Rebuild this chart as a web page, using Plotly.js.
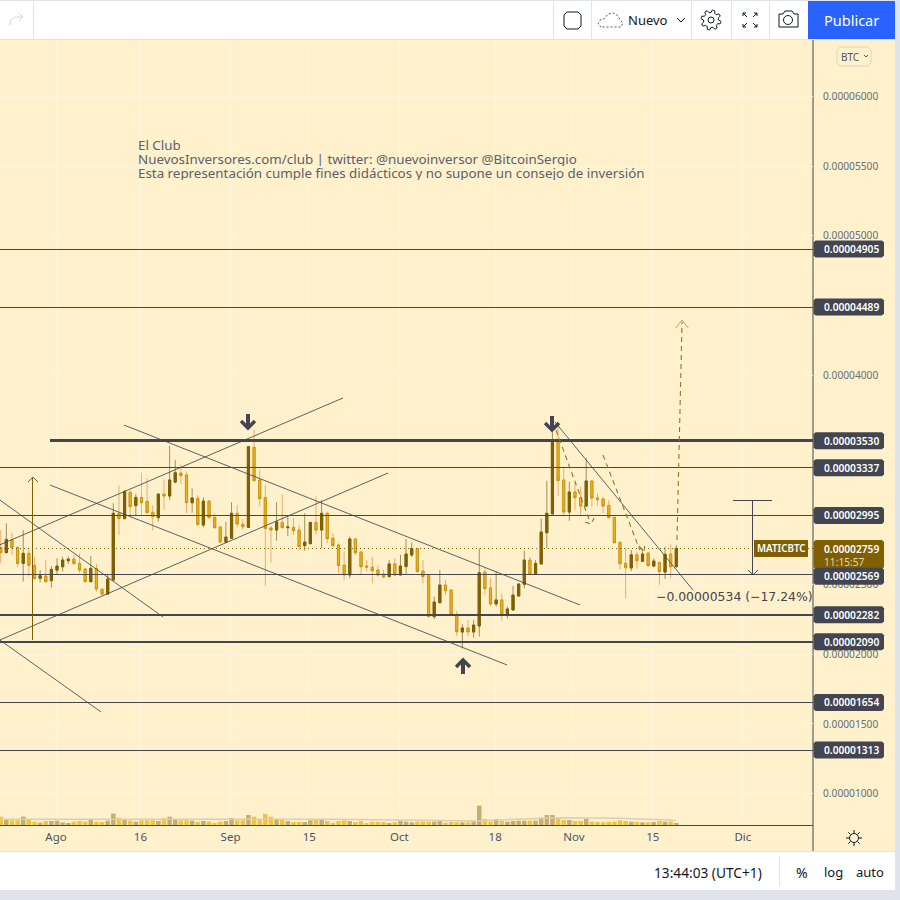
<!DOCTYPE html>
<html>
<head>
<meta charset="utf-8">
<script src="https://cdn.plot.ly/plotly-3.0.1.min.js"></script>
<style>html,body{margin:0;padding:0;background:#fff;overflow:hidden}#chart{width:900px;height:900px}</style>
</head>
<body>
<div id="chart"></div>
<script>
// Prices in units of 0.00000001 BTC; day 0 = 1 Aug
const firstDay = -10;
const open = [2766,2728,2819,2766,2651,2723,2637,2544,2560,2527,
2603,2627,2670,2682,2651,2611,2520,2615,2465,2431,
2532,3010,2972,3160,3065,3124,3096,3017,2979,3148,
3134,3234,3299,3285,3086,3117,2926,3098,2981,2912,
2804,2831,3010,2931,2909,3483,3249,3124,2905,2890,
2945,2907,2909,2890,2778,2792,2945,2890,3010,2831,
2783,2639,2568,2826,2733,2632,2623,2604,2575,2556,
2647,2568,2628,2711,2757,2596,2563,2269,2369,2496,
2460,2281,2159,2188,2159,2202,2589,2475,2360,2389,
2286,2317,2417,2501,2675,2575,2647,2871,3005,3524,
3249,3019,3163,3124,3062,3242,3120,3113,3067,2981,
2802,2651,2618,2713,2666,2725,2632,2658,2589,2718,2627];
const close = [2728,2823,2764,2651,2723,2637,2544,2563,2520,2608,
2632,2675,2682,2649,2603,2520,2615,2467,2431,2539,
3010,2972,3165,3058,3124,3086,3015,2986,3148,3134,
3249,3301,3280,3086,3120,2929,3098,2979,2907,2804,
2840,3010,2933,2914,3488,3244,3115,2902,2890,2948,
2907,2912,2886,2771,2804,2945,2890,3010,2828,2778,
2635,2568,2826,2728,2627,2625,2599,2568,2553,2647,
2568,2632,2718,2757,2592,2556,2269,2374,2496,2455,
2286,2161,2188,2159,2209,2584,2470,2360,2389,2286,
2324,2424,2503,2675,2575,2651,2876,3010,3524,3244,
3019,3163,3122,3062,3242,3120,3108,3062,2979,2799,
2649,2620,2713,2670,2718,2635,2668,2592,2716,2627,2759];
const high = [2890,2938,2871,2771,2890,2759,2699,2603,2675,2632,
2687,2699,2699,2711,2723,2615,2704,2647,2472,2568,
3082,3213,3177,3177,3148,3301,3261,3070,3148,3254,
3493,3392,3361,3309,3189,3141,3124,3105,3010,2919,
2950,3089,3070,2969,3488,3612,3320,3213,2920,3089,
3148,2998,2981,2926,3010,2945,3129,3105,3022,2867,
2795,2735,2843,2831,2735,2675,2699,2639,2604,2675,
2687,2711,2826,2800,2759,2675,2565,2412,2604,2532,
2465,2310,2216,2245,2245,2759,2616,2544,2592,2436,
2341,2489,2508,2742,2699,2675,2974,3244,3595,3631,
3344,3237,3225,3201,3404,3249,3153,3129,3105,2986,
2807,2759,2747,2735,2759,2728,2687,2663,2771,2788,2783];
const low = [2651,2723,2711,2623,2520,2556,2532,2513,2513,2477,
2568,2592,2647,2644,2584,2515,2515,2448,2424,2431,
2527,2854,2967,2986,2998,2998,3005,2886,2950,3034,
3105,3225,3220,3010,3015,2924,2909,2972,2902,2799,
2795,2826,2909,2890,2905,3237,3062,2489,2656,2814,
2902,2847,2854,2747,2742,2790,2859,2759,2795,2771,
2580,2532,2544,2711,2575,2596,2508,2556,2549,2551,
2561,2565,2575,2699,2587,2508,2267,2250,2365,2424,
2281,2130,2042,2130,2118,2126,2424,2345,2341,2240,
2257,2314,2415,2472,2568,2573,2644,2759,3005,3134,
2986,2957,3034,2998,3058,3058,3062,3010,2974,2795,
2608,2400,2596,2615,2661,2627,2623,2496,2539,2548,2623];
const volume = [25,18,14,14,25,16,10,7,12,12,
13,8,6,10,12,10,16,10,9,13,
34,22,15,13,10,14,14,14,12,20,
25,17,14,14,13,10,12,10,6,10,
12,21,14,14,30,25,17,33,25,18,
16,12,9,9,9,14,16,16,12,6,
12,14,12,9,12,6,10,9,9,6,
8,12,10,8,10,10,10,10,14,7,
9,8,8,8,10,58,18,10,18,12,
10,12,13,13,13,13,22,30,30,20,
15,15,12,12,18,10,9,8,9,10,
14,12,10,9,8,8,9,12,10,10,6];
const volumeMaDays = [-10,10,30,50,65,74,80,90,100,110];
const volumeMa = [17,17,15,17,14,12,16,22,20,14];

const xTickDays = [0,15,31,45,61,78,92,106,122];
const xTickText = ['Ago','16','Sep','15','Oct','18','Nov','15','Dic'];
const yTickVals = [6000,5500,5000,4000,2500,2000,1500,1000];
const yTickText = ['0.00006000','0.00005500','0.00005000','0.00004000','0.00002500','0.00002000','0.00001500','0.00001000'];

const thinLevels = [4905,4489,3337,2995,2569,1654,1313];
const thickLevels = [2282,2090];
const mainLevel = 3530;
const lastPrice = 2759;
const tagLevels = [2995,4905,4489,3530,3337,2282,2090,1654,1313,2569];
const tagText = ['0.00002995','0.00004905','0.00004489','0.00003530','0.00003337','0.00002282','0.00002090','0.00001654','0.00001313','0.00002569'];

const xRange = [-9.947,134.46], yRange = [775.4,6403.4];

const trendLines = [
 [[-11.72,2754],[50.98,3837]],
 [[-9.95,2102],[58.97,3299]],
 [[12.08,3643],[93.07,2353]],
 [[-1.07,3213],[80.1,1923]],
 [[-11.72,3156],[19.0,2267]],
 [[-11.72,2152],[7.99,1586]],
 [[88.63,3665],[113.14,2460]]
];
const dashedPaths = [
 [[110.3,2819],[111.2,4382]],
 [[88.8,3607],[94.85,2948]],
 [[93.96,2948],[95.03,2933],[95.56,2976]],
 [[97.16,3428],[103.7,2747]],
 [[103.55,2776],[104.44,2733],[104.6,2783]]
];
const targetHead = [[110.1,4339],[111.2,4396],[112.3,4339]];
const longArrow = [[[-4.09,2102],[-4.09,3270]],[[-4.97,3234],[-4.09,3270],[-3.2,3234]]];
const measure = [
 [[120.25,3103],[127.17,3103]],
 [[123.8,3103],[123.8,2569]],
 [[122.9,2604],[123.8,2569],[124.7,2604]]
];
const blockArrows = [
 [[[34.1,3722],[34.1,3622]],[[32.86,3672],[34.1,3622],[35.34,3672]]],
 [[[88.1,3708],[88.1,3607]],[[86.86,3657],[88.1,3607],[89.34,3657]]],
 [[[72.3,1858],[72.3,1958]],[[71.06,1908],[72.3,1958],[73.54,1908]]]
];

const barNudge = 0.18;
const days = open.map((_, i) => firstDay + i + barNudge);
const INK = '#434651', BROWN = '#7f5f01', GOLD = '#ecb41e', GOLDLINE = '#c8960f', CREAM = '#fef1cc';
const FONT = '"Noto Sans", sans-serif';

const poly = (pts, color, width, dash) => ({type:'scatter', mode:'lines', x:pts.map(p=>p[0]), y:pts.map(p=>p[1]),
  line:{color, width, dash:dash||'solid', simplify:false}, hoverinfo:'skip', showlegend:false});

const traces = [];
traces.push({type:'bar', x:days, y:volume, yaxis:'y2', width:0.8, hoverinfo:'skip', showlegend:false,
  marker:{color:close.map((c,i)=>c>=open[i]?'#c4ae6e':'#f0c442'), line:{width:0}}});
traces.push({type:'scatter', mode:'lines', x:volumeMaDays, y:volumeMa, yaxis:'y2', line:{color:'#d8d0b4', width:1.5}, hoverinfo:'skip', showlegend:false});
traces.push({type:'candlestick', x:days, open, high, low, close, hoverinfo:'skip', showlegend:false,
  increasing:{line:{color:'#a3904f', width:1}, fillcolor:'#a3904f'},
  decreasing:{line:{color:'#f2ab6c', width:1}, fillcolor:'#f2ab6c'}});
traces.push({type:'candlestick', x:days, open, close,
  high:open.map((o,i)=>Math.max(o,close[i])), low:open.map((o,i)=>Math.min(o,close[i])),
  hoverinfo:'skip', showlegend:false,
  increasing:{line:{color:BROWN, width:1}, fillcolor:BROWN},
  decreasing:{line:{color:GOLDLINE, width:1}, fillcolor:GOLD}});
thinLevels.forEach(l => traces.push(poly([[xRange[0],l],[xRange[1],l]], INK, 1)));
thickLevels.forEach(l => traces.push(poly([[xRange[0],l],[xRange[1],l]], INK, 2)));
traces.push(poly([[-1.07,mainLevel],[xRange[1],mainLevel]], INK, 3));
traces.push(poly([[xRange[0],lastPrice],[xRange[1],lastPrice]], BROWN, 1, '1px,3px'));
trendLines.forEach(p => traces.push(poly(p, 'rgba(67,70,81,0.85)', 1)));
dashedPaths.forEach(p => traces.push(poly(p, '#8f7628', 1.1, '5px,4px')));
traces.push(poly(targetHead, '#b9a56a', 1));
longArrow.forEach(p => traces.push(poly(p, BROWN, 1)));
measure.forEach(p => traces.push(poly(p, INK, 1)));
blockArrows.forEach(a => a.forEach(p => traces.push(poly(p, INK, 3.5))));

// page furniture, placed by screen position
const PX = x => x/813, PY = y => (825-y)/785;
const priceY = v => 40 + (yRange[1]-v)/(yRange[1]-yRange[0])*785;
const shapes = [];
const rect = (x0,y0,x1,y1,fill,lineColor,r,layer) => {
  const line = {width:lineColor?1:0, color:lineColor||'rgba(0,0,0,0)'};
  if(r){
    const k=[[x0+r,y0],[x1-r,y0],[x1,y0+r],[x1,y1-r],[x1-r,y1],[x0+r,y1],[x0,y1-r],[x0,y0+r]];
    shapes.push({type:'path',xref:'paper',yref:'paper',layer:layer||'below',fillcolor:fill||'rgba(0,0,0,0)',line,
      path:'M'+k.map(p=>PX(p[0])+' '+PY(p[1])).join(' L')+' Z'});
  } else {
    shapes.push({type:'rect',xref:'paper',yref:'paper',layer:layer||'below',x0:PX(x0),x1:PX(x1),y0:PY(y0),y1:PY(y1),fillcolor:fill,line});
  }
};
const path = (pts,color,width,dash,closed) => shapes.push({type:'path',xref:'paper',yref:'paper',layer:'below',
  path:'M'+pts.map(p=>PX(p[0])+' '+PY(p[1])).join(' L')+(closed?' Z':''),line:{color,width,dash:dash||'solid'}});
const circle = (cx,cy,r,color,width) => shapes.push({type:'circle',xref:'paper',yref:'paper',layer:'below',
  x0:PX(cx-r),x1:PX(cx+r),y0:PY(cy+r),y1:PY(cy-r),line:{color,width}});

rect(813,40,895,851,CREAM);
rect(0,825,895,851,CREAM);
rect(0,851,895,852,'#e0e3eb');
rect(895,0,900,900,'#e0e3eb');
rect(0,890,900,900,'#e0e3eb');
rect(0,0,900,1,'#e0e3eb');
rect(0,39,895,40,'#e0e3eb');
[33,553,591,691,731,769].forEach(x=>rect(x,1,x+1,39,'#e0e3eb'));
rect(779,856,780,886,'#e0e3eb');
rect(808,1,895,39,'#2962ff');
path([[813,40],[813,851]],'#434651',1);
// toolbar icons
path([[10,25],[11,20],[15,17],[23,17]],'#d1d4dc',1);
path([[19,13],[23,17],[19,21]],'#d1d4dc',1);
rect(564,12,581,29,null,'#131722',3);
path([[601,27],[598,24],[600,20],[604,19],[608,14],[614,13],[618,16],[620,20],[623,23],[621,27],[601,27]],'#50535e',1,'2px,2px');
path([[677,18],[681,22],[685,18]],'#131722',1);
const gear=[];
for(let i=0;i<48;i++){const a=i/48*2*Math.PI, r=(i%6<3)?10:7.5; gear.push([711+r*Math.cos(a+0.13),20+r*Math.sin(a+0.13)]);}
path(gear,'#131722',1,null,true); circle(711,20,3,'#131722',1);
[[[743,16],[743,13],[746,13]],[[754,13],[757,13],[757,16]],[[743,24],[743,27],[746,27]],[[754,27],[757,27],[757,24]]].forEach(p=>path(p,'#131722',1));
path([[743,13],[747,17]],'#131722',1);path([[757,13],[753,17]],'#131722',1);path([[743,27],[747,23]],'#131722',1);path([[757,27],[753,23]],'#131722',1);
path([[779,14],[783,14],[785,11],[792,11],[794,14],[798,14],[798,27],[779,27]],'#131722',1,null,true);
circle(788,20,4.5,'#131722',1);
rect(837,47,871,66,'rgba(255,255,255,0)','#d8d8c8',3);
path([[864,55],[866,57],[868,55]],'#50535e',1);
// sun icon
circle(854,838,4.5,'#131722',1);
for(let i=0;i<8;i++){const a=i/8*2*Math.PI; path([[854+5*Math.cos(a),838+5*Math.sin(a)],[854+8*Math.cos(a),838+8*Math.sin(a)]],'#131722',1);}

const annotations = [];
const text = (x,y,t,size,color,anchor,extra) => annotations.push(Object.assign({xref:'paper',yref:'paper',x:PX(x),y:PY(y),text:t,showarrow:false,
  xanchor:anchor||'left',yanchor:'middle',font:{family:FONT,size,color},borderpad:0},extra||{}));

text(136.5,145,'El Club',13.37,'#5d606b','left',{height:14});
text(136.5,159,'NuevosInversores.com/club | twitter: @nuevoinversor @BitcoinSergio',13.37,'#5d606b','left',{height:14});
text(136.5,173,'Esta representación cumple fines didácticos y no supone un consejo de inversión',13.37,'#5d606b','left',{height:14});
text(734,596,'−0.00000534 (−17.24%)',12.4,'#434651','center',{font:{family:'"DejaVu Sans", sans-serif',size:12.4,color:'#434651'}});

// last-price tag
rect(813.5,540,884,569,BROWN,null,2,'above');
text(822.5,549,'0.00002759',10.2,'#ffffff','left',{font:{family:FONT,size:10.2,color:'#ffffff',weight:600}});
text(823,562,'11:15:57',10.2,'#e3d9b0');
// level tags (2569 drawn last, it covers the bottom of the last-price tag)
tagLevels.forEach((l,i)=>{
  const py = priceY(l) + (l===2569?1.5:0);
  rect(813.5,py-8.5,884,py+8.5,INK,null,2,'above');
  text(822.5,py,tagText[i],10.2,'#ffffff','left',{font:{family:FONT,size:10.2,color:'#ffffff',weight:600}});
});
// symbol tag
rect(754,540,808,557,BROWN,null,0,'above');
text(781,548.5,'MATICBTC',9.8,'#ffffff','center',{font:{family:FONT,size:9.8,color:'#ffffff',weight:600}});

text(627,20,'Nuevo',13,'#131722');
text(851.5,20,'Publicar',14.5,'#ffffff','center');
text(850,57,'BTC',10,'#50535e','center');
text(708,872,'13:44:03 (UTC+1)',13.7,'#131722','center');
text(802,872,'%',14,'#131722','center');
text(833,872,'log',13,'#131722','center');
text(870,872,'auto',13,'#131722','center');

const layout = {
  width:900, height:900, margin:{l:0,r:87,t:40,b:75,pad:0}, boxgap:0.45,
  paper_bgcolor:'#ffffff', plot_bgcolor:CREAM, showlegend:false, hovermode:false, dragmode:false,
  xaxis:{range:xRange, tickmode:'array', tickvals:xTickDays, ticktext:xTickText, showgrid:true, gridcolor:'#fef5dc', gridwidth:1,
    zeroline:false, showline:true, linecolor:INK, linewidth:1, ticks:'outside', ticklen:1, tickcolor:'rgba(0,0,0,0)',
    tickfont:{family:FONT,size:11.5,color:'#50535e'}, rangeslider:{visible:false}, fixedrange:true},
  yaxis:{range:yRange, side:'right', tickmode:'array', tickvals:yTickVals, ticktext:yTickText, showgrid:true, gridcolor:'#fef5dc', gridwidth:1,
    zeroline:false, showline:false, ticks:'outside', ticklen:7, tickcolor:'rgba(0,0,0,0)',
    tickfont:{family:FONT,size:10.2,color:'#6a6d78'}, fixedrange:true},
  yaxis2:{overlaying:'y', range:[0,2355], visible:false, fixedrange:true},
  shapes, annotations
};
Plotly.newPlot('chart', traces, layout, {displayModeBar:false, staticPlot:true}).then(gd => {
  // keep straight level lines crisp
  gd.querySelectorAll('.scatterlayer .trace').forEach(g => {
    const d = g.__data__ && g.__data__[0];
    if (d && d.trace && d.trace.x.length === 2 && (d.trace.y[0] === d.trace.y[1] || d.trace.x[0] === d.trace.x[1])) {
      g.querySelectorAll('path.js-line').forEach(p => p.style.shapeRendering = 'crispEdges');
    }
  });
});
</script>
</body>
</html>
